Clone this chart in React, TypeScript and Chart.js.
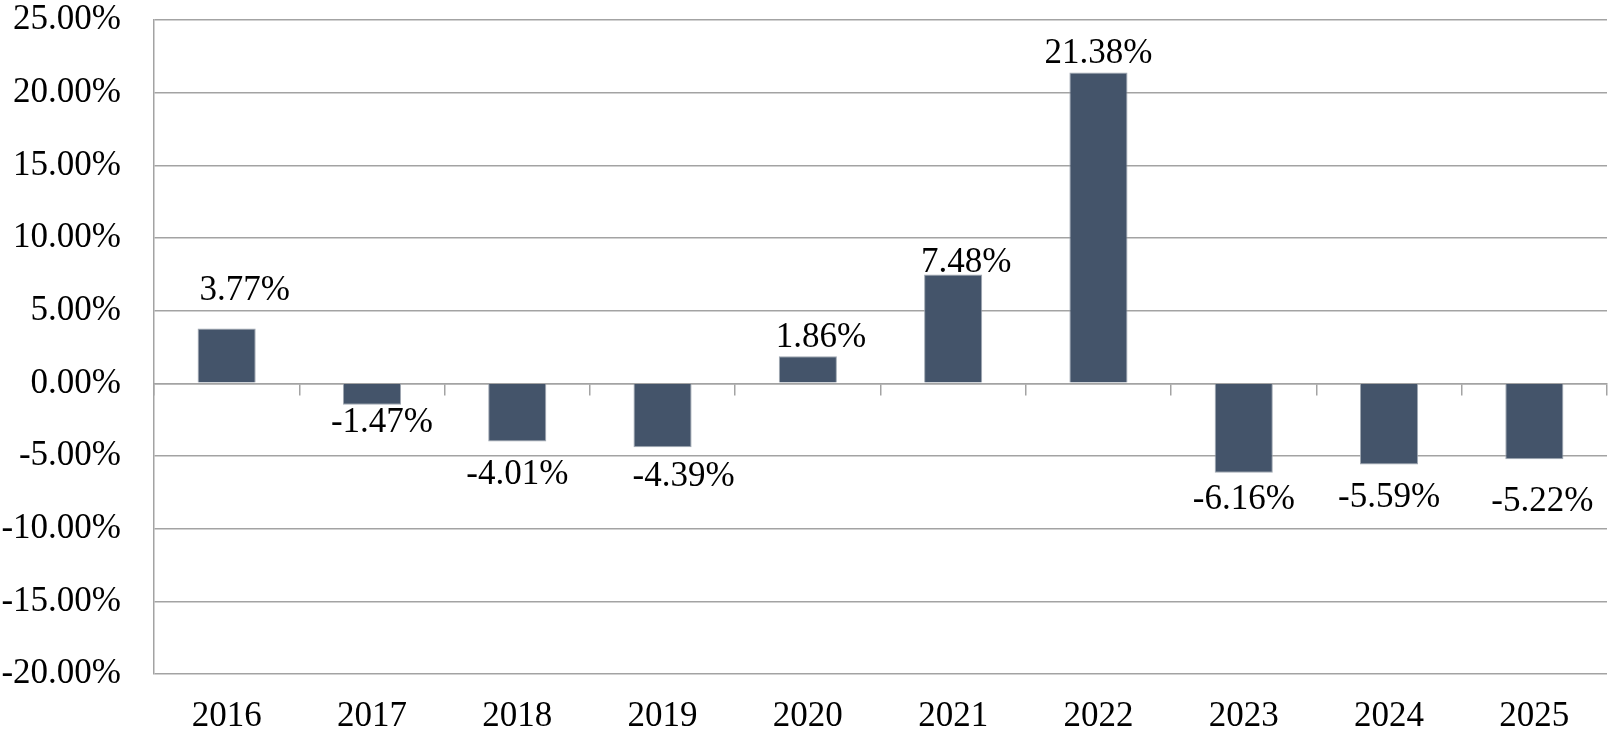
import React, { useEffect, useRef } from "react";
import { Chart, registerables, Plugin } from "chart.js";

Chart.register(...registerables);

// data
const years = ["2016", "2017", "2018", "2019", "2020", "2021", "2022", "2023", "2024", "2025"];
const returns = [3.77, -1.47, -4.01, -4.39, 1.86, 7.48, 21.38, -6.16, -5.59, -5.22];
const yMin = -20;
const yMax = 25;
const yStep = 5;

// label placement tweaks (px from bar end / bar centre), as in the original
const labelGap = [38, 18, 33, 30, 18, 12, 19, 27, 33, 43];
const labelShiftX = [18, 10, 0, 21, 13, 13, 0, 0, 0, 8];

const FONT = "'Liberation Serif', 'Times New Roman', serif";
const FONT_SIZE = 35;
const GRID = "#a3a3a3";
const BAR = "#44546a";

const valueLabels: Plugin<"bar"> = {
    id: "valueLabels",
    afterDatasetsDraw: (chart) => {
        const { ctx } = chart;
        const meta = chart.getDatasetMeta(0);
        ctx.save();
        ctx.font = `${FONT_SIZE}px ${FONT}`;
        ctx.fillStyle = "#000";
        ctx.textAlign = "center";
        ctx.textBaseline = "middle";
        meta.data.forEach((bar, i) => {
            const v = returns[i];
            const { x, y } = bar.getProps(["x", "y"], true) as { x: number; y: number };
            const gap = labelGap[i];
            ctx.fillText(v.toFixed(2) + "%", x + labelShiftX[i], v >= 0 ? y - gap : y + gap);
        });
        ctx.restore();
    }
};

const ReturnsChart: React.FC = () => {
    const canvasRef = useRef<HTMLCanvasElement | null>(null);

    useEffect(() => {
        if (!canvasRef.current) return;

        const chart = new Chart(canvasRef.current, {
            type: "bar",
            data: {
                labels: years,
                datasets: [
                    {
                        data: returns,
                        backgroundColor: BAR,
                        borderColor: "rgba(150,158,170,0.9)",
                        borderWidth: 1,
                        barPercentage: 0.4,
                        categoryPercentage: 1
                    }
                ]
            },
            options: {
                responsive: false,
                animation: false,
                layout: { padding: { top: 20, right: 3, left: 0, bottom: 0 } },
                plugins: {
                    legend: { display: false },
                    tooltip: { enabled: false }
                },
                scales: {
                    x: {
                        type: "category",
                        position: "bottom",
                        grid: { display: false, drawTicks: false },
                        border: { display: false },
                        ticks: {
                            font: { family: FONT, size: FONT_SIZE },
                            color: "#000",
                            padding: 22,
                            maxRotation: 0,
                            autoSkip: false
                        },
                        afterFit: (s: any) => {
                            s.height = 66;
                            s.paddingLeft = 0;
                            s.paddingRight = 0;
                        }
                    },
                    // zero line with the small category tick marks
                    x2: {
                        type: "category",
                        axis: "x",
                        position: { y: 0 },
                        offset: true,
                        grid: {
                            offset: true,
                            drawOnChartArea: false,
                            drawTicks: true,
                            tickLength: 11,
                            color: GRID,
                            lineWidth: 1.5
                        },
                        border: { display: true, color: GRID, width: 1.5 },
                        ticks: { display: false }
                    },
                    y: {
                        min: yMin,
                        max: yMax,
                        ticks: {
                            stepSize: yStep,
                            callback: (v) => Number(v).toFixed(2) + "%",
                            font: { family: FONT, size: FONT_SIZE },
                            color: "#000",
                            padding: 33
                        },
                        grid: { color: GRID, lineWidth: 1.5, drawTicks: false },
                        border: { display: true, color: GRID, width: 1.5 },
                        afterFit: (s: any) => {
                            s.width = 154;
                            s.paddingTop = 0;
                            s.paddingBottom = 0;
                        }
                    }
                }
            } as any,
            plugins: [valueLabels]
        });

        return () => {
            chart.destroy();
        };
    }, []);

    return (
        <div style={{ position: "absolute", left: 0, top: 0, width: 1610, height: 740, background: "#fff" }}>
            <canvas ref={canvasRef} width={1610} height={740} style={{ display: "block" }}></canvas>
        </div>
    );
};

export default function App() {
    return <ReturnsChart />;
}
